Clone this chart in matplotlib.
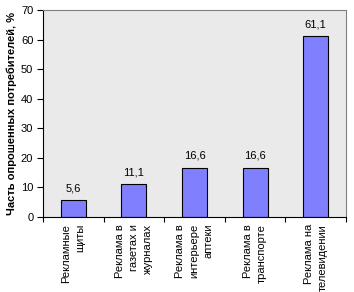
import matplotlib
matplotlib.use("Agg")
import matplotlib.pyplot as plt
import numpy as np

categories = ["Рекламные\nщиты", "Реклама в\nгазетах и\nжурналах", "Реклама в\nинтерьере\nаптеки",
              "Реклама в\nтранспорте", "Реклама на\nтелевидении"]
values = [5.6, 11.1, 16.6, 16.6, 61.1]
value_labels = ["5,6", "11,1", "16,6", "16,6", "61,1"]
yticks = [0, 10, 20, 30, 40, 50, 60, 70]

plt.rcParams['font.family'] = ['Liberation Sans', 'DejaVu Sans']
fig = plt.figure(figsize=(3.54, 2.92), dpi=100)
ax = fig.add_axes([43/354, 1 - 217/292, (346-43)/354, (217-10)/292])
ax.set_facecolor('#EAEAEA')
x = np.arange(len(values))
bars = ax.bar(x, values, width=0.41, color='#8080FF', edgecolor='black', linewidth=0.8)
for xi, v, lab in zip(x, values, value_labels):
    ax.text(xi, v + 2.4, lab, ha='center', va='bottom', fontsize=8)
ax.set_xlim(-0.5, len(values) - 0.5)
ax.set_ylim(0, 70)
ax.set_yticks(yticks)
ax.set_yticklabels([str(t) for t in yticks], fontsize=8)
ax.set_xticks(np.arange(len(values) + 1) - 0.5)
ax.set_xticklabels([])
ax.set_xticks(x, minor=True)
ax.set_xticklabels(categories, minor=True, rotation=90, fontsize=8, va='top', ha='center',
                   multialignment='right', linespacing=1.55)
ax.tick_params(axis='x', which='minor', length=0, pad=5)
ax.tick_params(axis='x', which='major', length=3.5, direction='out', width=0.8)
ax.tick_params(axis='y', length=4, direction='out', width=0.8, pad=3)
for s in ['top', 'right']:
    ax.spines[s].set_color('#808080')
    ax.spines[s].set_linewidth(0.8)
for s in ['left', 'bottom']:
    ax.spines[s].set_color('black')
    ax.spines[s].set_linewidth(0.8)
ax.set_ylabel("Часть опрошенных потребителей, %", fontsize=8, fontweight='bold', labelpad=3)
fig.savefig("out.png", dpi=100)
